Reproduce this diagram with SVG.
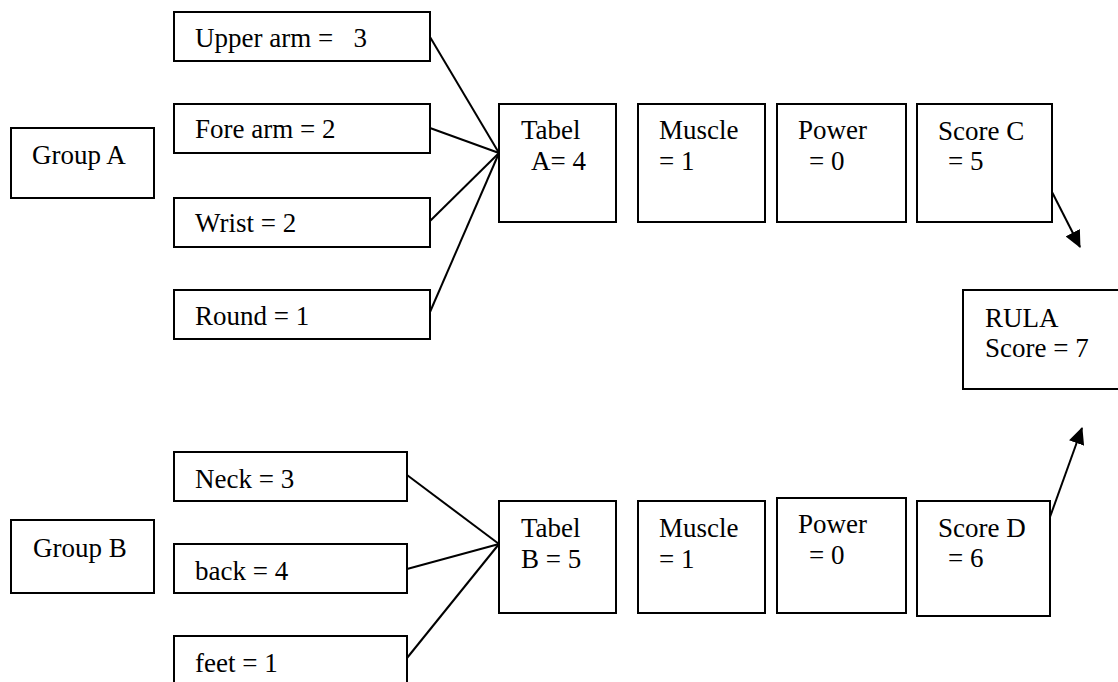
<svg xmlns="http://www.w3.org/2000/svg" width="1118" height="682" viewBox="0 0 1118 682">
<style>
.box{fill:#fff;stroke:#000;stroke-width:2}
.t{font-family:"Liberation Serif","Times New Roman",serif;font-size:27px;fill:#000;white-space:pre}
.ln{stroke:#000;stroke-width:2;fill:none}
</style>
<defs>
<marker id="ah" markerUnits="userSpaceOnUse" markerWidth="18" markerHeight="16" refX="16" refY="8" orient="auto">
<path d="M0,0 L17,8 L0,16 Z" fill="#000"/>
</marker>
</defs>
<rect width="1118" height="682" fill="#fff"/>
<g id="connectors">
<line class="ln" x1="430" y1="37" x2="499" y2="153"/>
<line class="ln" x1="430" y1="128" x2="499" y2="153"/>
<line class="ln" x1="430" y1="221" x2="499" y2="153"/>
<line class="ln" x1="430" y1="312" x2="499" y2="153"/>
<line class="ln" x1="407" y1="475" x2="499" y2="544"/>
<line class="ln" x1="407" y1="569" x2="499" y2="544"/>
<line class="ln" x1="407" y1="658" x2="499" y2="544"/>
<line class="ln" x1="1052" y1="192" x2="1080" y2="247" marker-end="url(#ah)"/>
<line class="ln" x1="1050" y1="517" x2="1082" y2="428" marker-end="url(#ah)"/>
</g>
<g id="groupA"><rect class="box" x="11" y="128" width="143" height="70"/><text class="t" x="32" y="164">Group A</text></g>
<g id="upperarm"><rect class="box" x="174" y="12" width="256" height="49"/><text class="t" x="195" y="47">Upper arm =   3</text></g>
<g id="forearm"><rect class="box" x="174" y="104" width="256" height="49"/><text class="t" x="195" y="138">Fore arm = 2</text></g>
<g id="wrist"><rect class="box" x="174" y="198" width="256" height="49"/><text class="t" x="195" y="232">Wrist = 2</text></g>
<g id="round"><rect class="box" x="174" y="290" width="256" height="49"/><text class="t" x="195" y="325">Round = 1</text></g>
<g id="tabelA"><rect class="box" x="499" y="104" width="117" height="118"/><text class="t" x="521" y="139">Tabel</text><text class="t" x="531" y="170">A= 4</text></g>
<g id="muscleA"><rect class="box" x="638" y="104" width="127" height="118"/><text class="t" x="659" y="139">Muscle</text><text class="t" x="659" y="170">= 1</text></g>
<g id="powerA"><rect class="box" x="777" y="104" width="129" height="118"/><text class="t" x="798" y="139">Power</text><text class="t" x="809" y="170">= 0</text></g>
<g id="scoreC"><rect class="box" x="917" y="104" width="135" height="118"/><text class="t" x="938" y="140">Score C</text><text class="t" x="948" y="170">= 5</text></g>
<g id="rula"><rect class="box" x="963" y="290" width="165" height="99"/><text class="t" x="985" y="327">RULA</text><text class="t" x="985" y="357">Score = 7</text></g>
<g id="groupB"><rect class="box" x="11" y="520" width="143" height="73"/><text class="t" x="33" y="557">Group B</text></g>
<g id="neck"><rect class="box" x="174" y="452" width="233" height="49"/><text class="t" x="195" y="488">Neck = 3</text></g>
<g id="back"><rect class="box" x="174" y="544" width="233" height="49"/><text class="t" x="195" y="580">back = 4</text></g>
<g id="feet"><rect class="box" x="174" y="636" width="233" height="60"/><text class="t" x="195" y="672">feet = 1</text></g>
<g id="tabelB"><rect class="box" x="499" y="501" width="117" height="112"/><text class="t" x="521" y="537">Tabel</text><text class="t" x="521" y="568">B = 5</text></g>
<g id="muscleB"><rect class="box" x="638" y="501" width="127" height="112"/><text class="t" x="659" y="537">Muscle</text><text class="t" x="659" y="568">= 1</text></g>
<g id="powerB"><rect class="box" x="777" y="498" width="129" height="115"/><text class="t" x="798" y="533">Power</text><text class="t" x="809" y="564">= 0</text></g>
<g id="scoreD"><rect class="box" x="917" y="501" width="133" height="115"/><text class="t" x="938" y="537">Score D</text><text class="t" x="948" y="567">= 6</text></g>
</svg>
